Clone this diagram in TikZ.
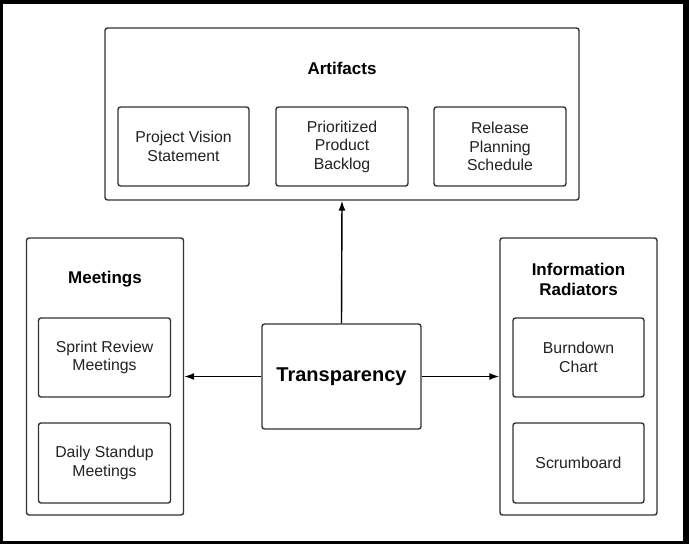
\documentclass[tikz,border=0pt]{standalone}
\usepackage{fontspec}
\setmainfont{Liberation Sans}
\usetikzlibrary{arrows.meta}
\definecolor{boxline}{HTML}{333333}
\definecolor{boxtext}{HTML}{222222}

\begin{document}
\begin{tikzpicture}[
			     x=1pt, y=-1pt,
			     >={Latex[length=10pt,width=7pt]},
			     group/.style={draw=boxline, line width=1.4pt, rounded corners=2.5pt, fill=white},
			     item/.style={draw=boxline, line width=1.4pt, rounded corners=2.5pt, minimum width=131pt, minimum height=79pt, align=center, text=boxtext, font=\fontsize{15.8}{18.5}\selectfont},
			     grouptitle/.style={align=center, font=\bfseries\fontsize{17}{20}\selectfont},
			     link/.style={->, draw=black, line width=1.4pt}
			     ]
% frame
\useasboundingbox (0,0) rectangle (689,544);
\fill[black] (0,0) rectangle (689,544);
\fill[white] (2.7,4) rectangle (683,541);

% artifacts
\node[group, minimum width=474pt, minimum height=172pt] (art) at (342,114) {};
\node[grouptitle] (arttitle) at (342,68) {Artifacts};
\node[item] (pvs) at (183.5,146.5) {Project Vision\\Statement};
\node[item, minimum width=132pt] (ppb) at (342,146.5) {Prioritized\\Product\\Backlog};
\node[item, minimum width=132pt] (rps) at (500,146.5) {Release\\Planning\\Schedule};

% meetings
\node[group, minimum width=157pt, minimum height=277pt] (meet) at (105,376.5) {};
\node[grouptitle] (meettitle) at (105,279) {Meetings};
\node[item, minimum width=132pt] (srm) at (104.5,357.5) {Sprint Review\\Meetings};
\node[item, minimum width=132pt, minimum height=80pt] (dsm) at (104.5,463) {Daily Standup\\Meetings};

% information radiators
\node[group, minimum width=157pt, minimum height=277pt] (info) at (578.5,376.5) {};
\node[grouptitle] (infotitle) at (578.5,279) {Information\\Radiators};
\node[item] (bdc) at (578.5,357.5) {Burndown\\Chart};
\node[item, minimum height=80pt] (scb) at (578.5,463) {Scrumboard};

% centre
\node[draw=boxline, line width=1.4pt, rounded corners=2.5pt, minimum width=159pt, minimum height=105pt, font=\bfseries\fontsize{20}{24}\selectfont] (trans) at (341.5,376.5) {Transparency};

\draw[link] (trans.north) -- (art.south);
\draw[link] (trans.west) -- (meet.east);
\draw[link] (trans.east) -- (info.west);
\end{tikzpicture}
\end{document}
